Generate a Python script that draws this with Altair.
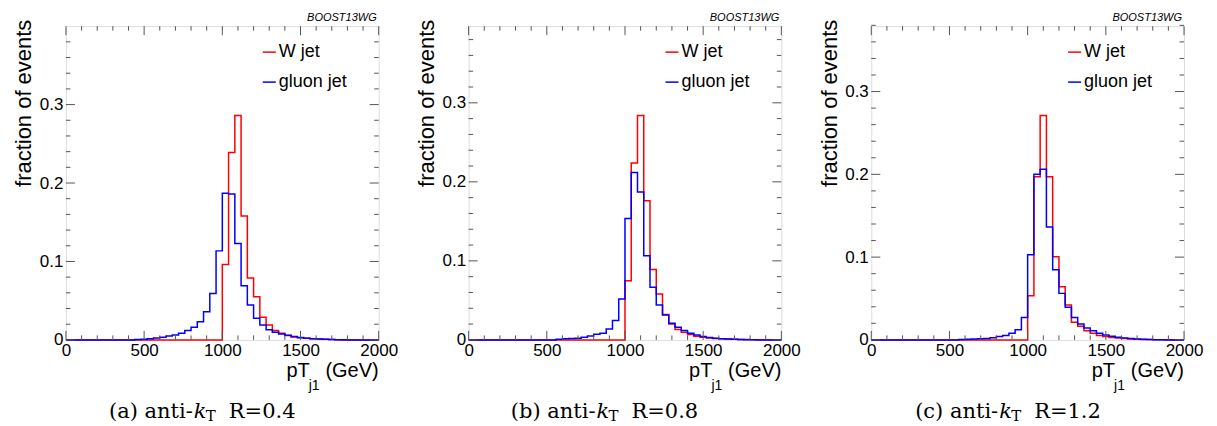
import altair as alt
import pandas as pd

# ---------------- data (fraction of events per 40 GeV bin) ----------------
BIN_WIDTH = 40
X_MAX = 2000

# (a) anti-kT R=0.4
W_A_START = 1000
W_A = [0.096, 0.239, 0.286, 0.158, 0.079, 0.055, 0.029, 0.019, 0.012, 0.0084,
       0.0055, 0.0038, 0.0028, 0.002, 0.0014, 0.001, 0.0007, 0.0005, 0.0003]
G_A_START = 440
G_A = [0.0004, 0.0008, 0.0014, 0.0025, 0.0035, 0.005, 0.0064, 0.0085, 0.012, 0.016,
       0.023, 0.036, 0.059, 0.1135, 0.187, 0.186, 0.123, 0.069, 0.0445, 0.0275,
       0.019, 0.013, 0.0097, 0.0076, 0.006, 0.0042, 0.003, 0.0022, 0.0016, 0.0011,
       0.0008, 0.0005, 0.0003, 0.0002]

# (b) anti-kT R=0.8
W_B_START = 1000
W_B = [0.075, 0.224, 0.284, 0.176, 0.089, 0.058, 0.032, 0.020, 0.013, 0.0096,
       0.0067, 0.0046, 0.0034, 0.0025, 0.0018, 0.0013, 0.001, 0.0007, 0.0005, 0.0004,
       0.0003, 0.0002, 0.0001]
G_B_START = 560
G_B = [0.0008, 0.0013, 0.0017, 0.0021, 0.0034, 0.005, 0.007, 0.0083, 0.0139, 0.0244,
       0.0517, 0.1536, 0.2117, 0.187, 0.1065, 0.0665, 0.0442, 0.0315, 0.021, 0.016,
       0.0118, 0.0084, 0.0063, 0.0042, 0.003, 0.0022, 0.0016, 0.0011, 0.0008, 0.0005,
       0.0003, 0.0002]

# (c) anti-kT R=1.2
W_C_START = 1000
W_C = [0.0534, 0.197, 0.271, 0.197, 0.1004, 0.0642, 0.0422, 0.0212, 0.0164, 0.0112,
       0.008, 0.0054, 0.004, 0.003, 0.0022, 0.0016, 0.0012, 0.0008, 0.0006, 0.0004,
       0.0003, 0.0002, 0.0001]
G_C_START = 560
G_C = [0.0005, 0.0008, 0.0011, 0.0014, 0.0018, 0.0025, 0.004, 0.0052, 0.008, 0.0124,
       0.0272, 0.1028, 0.200, 0.206, 0.1365, 0.0847, 0.0562, 0.0393, 0.0272, 0.0193,
       0.0145, 0.0112, 0.008, 0.006, 0.0045, 0.0033, 0.0024, 0.0017, 0.0012, 0.0008,
       0.0005, 0.0003, 0.0002]

Y_MAX = [0.400, 0.397, 0.379]
TAGS = ["(a) anti-", "(b) anti-", "(c) anti-"]
RADII = ["R=0.4", "R=0.8", "R=1.2"]
SERIES = ["W jet", "gluon jet"]
COLORS = ["#ff0000", "#0000ff"]

X_MAJOR = [0, 500, 1000, 1500, 2000]
X_MINOR = [v for v in range(100, 2000, 100) if v % 500 != 0]
Y_MAJOR = [0, 0.1, 0.2, 0.3]
Y_MINOR = [0.02, 0.04, 0.06, 0.08, 0.12, 0.14, 0.16, 0.18,
           0.22, 0.24, 0.26, 0.28, 0.32, 0.34, 0.36, 0.38]

# ---------------- layout constants ----------------
W, H = 313, 314
FRAME = "#555555"
SANS = "Liberation Sans"
SERIF = "DejaVu Serif"


def step_frame(start, vals):
    nb = X_MAX // BIN_WIDTH
    arr = [0.0] * nb
    i0 = start // BIN_WIDTH
    for k, v in enumerate(vals):
        arr[i0 + k] = v
    xs = [i * BIN_WIDTH for i in range(nb)] + [X_MAX]
    ys = arr + [arr[-1]]
    return pd.DataFrame({"x": xs, "frac": ys})


def txt(label, **kw):
    return alt.Chart(pd.DataFrame({"t": [label]})).mark_text(**kw)


def panel(w_start, w_vals, g_start, g_vals, ymax, tag, rlabel):
    xs = alt.Scale(domain=[0, X_MAX], nice=False, zero=False)
    ys = alt.Scale(domain=[0, ymax], nice=False, zero=False)
    x_ax = alt.Axis(values=X_MAJOR, format="d", title=None, ticks=False, domain=False,
                    grid=False, labelFontSize=17, labelPadding=3, labelFlush=False,
                    labelOverlap=False, labelFont=SANS, labelColor="black")
    y_ax = alt.Axis(values=Y_MAJOR, labelExpr="datum.value == 0 ? '0' : format(datum.value, '.1f')",
                    title="fraction of events", titleFontSize=22, titleFontWeight="normal",
                    titleFont=SANS, titleColor="black", titleX=-42, titleY=-7, titleAngle=270,
                    titleAlign="right", titleBaseline="middle", ticks=False, domain=False,
                    grid=False, labelFontSize=17, labelPadding=3, labelFlush=False,
                    labelFont=SANS, labelColor="black")
    X = lambda: alt.X("x:Q", scale=xs, axis=x_ax)
    Y = lambda: alt.Y("frac:Q", scale=ys, axis=y_ax)

    red = alt.Chart(step_frame(w_start, w_vals)).mark_line(
        interpolate="step-after", color=COLORS[0], strokeWidth=1.5
    ).encode(x=X(), y=Y())
    blue = alt.Chart(step_frame(g_start, g_vals)).mark_line(
        interpolate="step-after", color=COLORS[1], strokeWidth=1.5
    ).encode(x=X(), y=Y())

    layers = [red, blue]
    # inward ticks on all four sides
    for vals, ln in ((X_MAJOR, 9), (X_MINOR, 4.5)):
        d = pd.DataFrame({"x": vals})
        for y0, y1 in ((H, H - ln), (0, ln)):
            layers.append(alt.Chart(d).mark_rule(color=FRAME, strokeWidth=1).encode(
                x=X(), y=alt.value(y0), y2=alt.value(y1)))
    for vals, ln in ((Y_MAJOR, 9), (Y_MINOR, 4.5)):
        d = pd.DataFrame({"frac": vals})
        for x0, x1 in ((0, ln), (W, W - ln)):
            layers.append(alt.Chart(d).mark_rule(color=FRAME, strokeWidth=1).encode(
                y=Y(), x=alt.value(x0), x2=alt.value(x1)))

    # legend
    for i, (name, col) in enumerate(zip(SERIES, COLORS)):
        yy = 26 + 30 * i
        layers.append(alt.Chart(pd.DataFrame({"s": [name]})).mark_rule(color=col, strokeWidth=1.5).encode(
            x=alt.value(197), x2=alt.value(210), y=alt.value(yy)))
        layers.append(txt(name, align="left", baseline="middle", fontSize=18, font=SANS,
                          color="black").encode(text="t:N", x=alt.value(213), y=alt.value(yy)))

    # BOOST13WG label
    layers.append(txt("BOOST13WG", align="right", baseline="middle", fontSize=11, font=SANS,
                      fontStyle="italic", color="black").encode(
        text="t:N", x=alt.value(W - 2), y=alt.value(-8)))

    # x-axis title pT_j1 (GeV)
    layers.append(txt("pT", align="right", baseline="alphabetic", fontSize=20, font=SANS,
                      color="black").encode(text="t:N", x=alt.value(W - 69), y=alt.value(351)))
    layers.append(txt("j1", align="left", baseline="alphabetic", fontSize=14, font=SANS,
                      color="black").encode(text="t:N", x=alt.value(W - 70), y=alt.value(364)))
    layers.append(txt("(GeV)", align="right", baseline="alphabetic", fontSize=20, font=SANS,
                      color="black").encode(text="t:N", x=alt.value(W), y=alt.value(351)))

    # caption
    layers.append(txt(tag, align="right", baseline="alphabetic", fontSize=21, font=SERIF,
                      color="black").encode(text="t:N", x=alt.value(127), y=alt.value(392)))
    layers.append(txt("k", align="left", baseline="alphabetic", fontSize=21, font=SERIF,
                      fontStyle="italic", color="black").encode(text="t:N", x=alt.value(128), y=alt.value(392)))
    layers.append(txt("T", align="left", baseline="alphabetic", fontSize=15, font=SERIF,
                      color="black").encode(text="t:N", x=alt.value(140), y=alt.value(395)))
    layers.append(txt(rlabel, align="left", baseline="alphabetic", fontSize=21, font=SERIF,
                      color="black").encode(text="t:N", x=alt.value(163), y=alt.value(392)))

    return alt.layer(*layers).properties(width=W, height=H)


chart = alt.hconcat(
    panel(W_A_START, W_A, G_A_START, G_A, Y_MAX[0], TAGS[0], RADII[0]),
    panel(W_B_START, W_B, G_B_START, G_B, Y_MAX[1], TAGS[1], RADII[1]),
    panel(W_C_START, W_C, G_C_START, G_C, Y_MAX[2], TAGS[2], RADII[2]),
    spacing=90,
    bounds="flush",
).properties(
    padding={"left": 4, "top": 3, "right": 5, "bottom": 0}
).configure_view(
    stroke=FRAME, strokeWidth=1
).configure(background="white")

chart.save("out.html", embed_options={"renderer": "svg", "actions": False})
